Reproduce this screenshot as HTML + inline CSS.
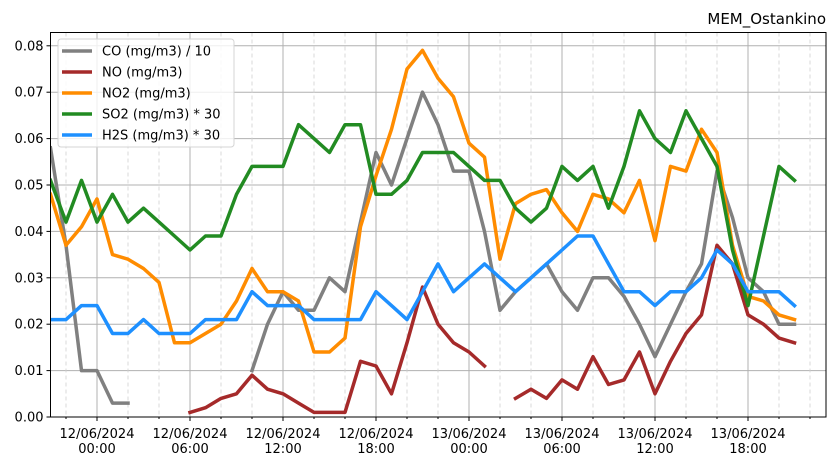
<!DOCTYPE html>
<html><head><meta charset="utf-8"><style>
html,body{margin:0;padding:0;background:#fff;}
svg{display:block;font-family:"DejaVu Sans","Liberation Sans",sans-serif;}
</style></head><body>
<svg id="chart" width="835" height="467" viewBox="0 0 835 467">
<defs><clipPath id="plotclip"><rect x="50.5" y="32.5" width="775.5" height="384.5"/></clipPath></defs>
</svg>
<script>
// hours relative to 12/06/2024 00:00
const hours = [-3,-2,-1,0,1,2,3,4,5,6,7,8,9,10,11,12,13,14,15,16,17,18,19,20,21,22,23,24,25,26,27,28,29,30,31,32,33,34,35,36,37,38,39,40,41,42,43,44,45];
const coValues = [0.058,0.037,0.010,0.010,0.003,0.003,null,null,null,null,null,null,null,0.010,0.020,0.027,0.023,0.023,0.030,0.027,0.042,0.057,0.050,0.060,0.070,0.063,0.053,0.053,0.040,0.023,0.027,0.030,0.033,0.027,0.023,0.030,0.030,0.026,0.020,0.013,0.020,0.027,0.033,0.053,0.043,0.030,0.027,0.020,0.020];
const noValues = [null,null,null,null,null,null,null,null,null,0.001,0.002,0.004,0.005,0.009,0.006,0.005,0.003,0.001,0.001,0.001,0.012,0.011,0.005,0.016,0.028,0.020,0.016,0.014,0.011,null,0.004,0.006,0.004,0.008,0.006,0.013,0.007,0.008,0.014,0.005,0.012,0.018,0.022,0.037,0.033,0.022,0.020,0.017,0.016];
const no2Values = [0.048,0.037,0.041,0.047,0.035,0.034,0.032,0.029,0.016,0.016,0.018,0.020,0.025,0.032,0.027,0.027,0.025,0.014,0.014,0.017,0.041,0.052,0.062,0.075,0.079,0.073,0.069,0.059,0.056,0.034,0.046,0.048,0.049,0.044,0.040,0.048,0.047,0.044,0.051,0.038,0.054,0.053,0.062,0.057,0.037,0.026,0.025,0.022,0.021];
const so2Values = [0.051,0.042,0.051,0.042,0.048,0.042,0.045,0.042,0.039,0.036,0.039,0.039,0.048,0.054,0.054,0.054,0.063,0.060,0.057,0.063,0.063,0.048,0.048,0.051,0.057,0.057,0.057,0.054,0.051,0.051,0.045,0.042,0.045,0.054,0.051,0.054,0.045,0.054,0.066,0.060,0.057,0.066,0.060,0.054,0.036,0.024,0.039,0.054,0.051];
const h2sValues = [0.021,0.021,0.024,0.024,0.018,0.018,0.021,0.018,0.018,0.018,0.021,0.021,0.021,0.027,0.024,0.024,0.024,0.021,0.021,0.021,0.021,0.027,0.024,0.021,0.027,0.033,0.027,0.030,0.033,0.030,0.027,0.030,0.033,0.036,0.039,0.039,0.033,0.027,0.027,0.024,0.027,0.027,0.030,0.036,0.033,0.027,0.027,0.027,0.024];
const yTicks = [0,0.01,0.02,0.03,0.04,0.05,0.06,0.07,0.08];
const yTickLabels = ["0.00","0.01","0.02","0.03","0.04","0.05","0.06","0.07","0.08"];
const xMajorHours = [0,6,12,18,24,30,36,42];
const xMajorLabels = [["12/06/2024","00:00"],["12/06/2024","06:00"],["12/06/2024","12:00"],["12/06/2024","18:00"],["13/06/2024","00:00"],["13/06/2024","06:00"],["13/06/2024","12:00"],["13/06/2024","18:00"]];
const xMinorHours = [-2,2,4,8,10,14,16,20,22,26,28,32,34,38,40,44,46];
const seriesNames = ["CO (mg/m3) / 10","NO (mg/m3)","NO2 (mg/m3)","SO2 (mg/m3) * 30","H2S (mg/m3) * 30"];

const L=50.5,R=826,T=32.5,B=417;
const xS=h=>97+15.5*h;
const yS=v=>417-v*4640;
const NS="http://www.w3.org/2000/svg";
const svg=document.getElementById('chart');
function mk(tag,attrs,parent){const e=document.createElementNS(NS,tag);for(const k in attrs)e.setAttribute(k,attrs[k]);(parent||svg).appendChild(e);return e;}

const grid=mk('g',{});


yTicks.forEach(v=>{mk('line',{x1:L,x2:R,y1:yS(v),y2:yS(v),stroke:'#b0b0b0','stroke-width':1},grid);});
xMajorHours.forEach(h=>{mk('line',{x1:xS(h),x2:xS(h),y1:T,y2:B,stroke:'#b0b0b0','stroke-width':1},grid);});
xMinorHours.forEach(h=>{mk('line',{x1:xS(h),x2:xS(h),y1:T,y2:B,stroke:'#d0d0d0','stroke-width':0.8,'stroke-dasharray':'4,3'},grid);});

yTicks.forEach((v,i)=>{
  mk('line',{x1:L-4,x2:L,y1:yS(v),y2:yS(v),stroke:'#000'});
  const t=mk('text',{x:L-7,y:yS(v)+4.5,'text-anchor':'end','font-size':13,fill:'#000'});
  
  
  t.textContent=yTickLabels[i];
});
xMajorHours.forEach((h,i)=>{
  mk('line',{x1:xS(h),x2:xS(h),y1:B,y2:B+4,stroke:'#000'});
  const t=mk('text',{x:xS(h),y:B+21,'text-anchor':'middle','font-size':13,fill:'#000'});
  
  
  t.textContent=xMajorLabels[i][0];
  const t2=mk('text',{x:xS(h),y:B+36,'text-anchor':'middle','font-size':13,fill:'#000'});
  
  
  t2.textContent=xMajorLabels[i][1];
});
xMinorHours.forEach(h=>{mk('line',{x1:xS(h),x2:xS(h),y1:B,y2:B+2,stroke:'#000'});});

const colors=['#808080','#a52a2a','#ff8c00','#228b22','#1e90ff'];
const all=[coValues,noValues,no2Values,so2Values,h2sValues];
const lineNames=['co-line','no-line','no2-line','so2-line','h2s-line'];
const lines=mk('g',{'clip-path':'url(#plotclip)'});
all.forEach((vals,si)=>{
  let d='',pen=false;
  vals.forEach((v,i)=>{
    if(v===null){pen=false;return;}
    d+=(pen?'L':'M')+xS(hours[i]).toFixed(1)+','+yS(v).toFixed(1);
    pen=true;
  });
  const p=mk('path',{d:d,fill:'none',stroke:colors[si],'stroke-width':3.5,'stroke-linejoin':'round','stroke-linecap':'square'},lines);
  
  
});

const frame=mk('rect',{x:L,y:T,width:R-L,height:B-T,fill:'none',stroke:'#000','stroke-width':1});



const lg=mk('g',{});


mk('rect',{x:58,y:39,width:176,height:108,rx:3,fill:'rgba(255,255,255,0.8)',stroke:'#d5d5d5'},lg);
seriesNames.forEach((n,i)=>{
  const y=51+21*i;
  const sw=mk('line',{x1:62,x2:92,y1:y,y2:y,stroke:colors[i],'stroke-width':3.5},lg);
  
  
  const t=mk('text',{x:102,y:y+4.5,'font-size':13,fill:'#000'},lg);
  
  
  t.textContent=n;
});

const title=mk('text',{x:826,y:24,'text-anchor':'end','font-size':15,fill:'#000'});


title.textContent='MEM_Ostankino';
</script>
</body></html>
